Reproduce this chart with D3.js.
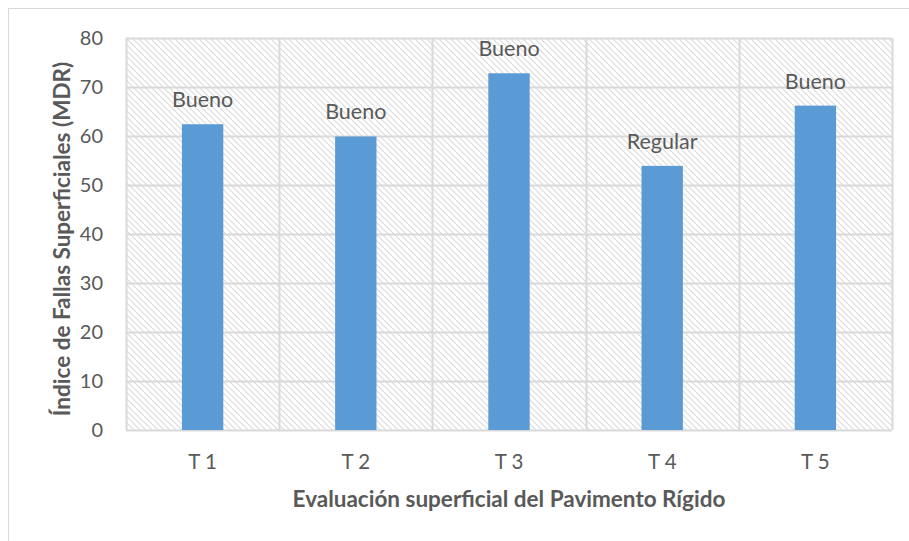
<!DOCTYPE html>
<html>
<head>
<meta charset="utf-8">
<script src="https://cdn.jsdelivr.net/npm/d3@7"></script>
<style>
  html, body { margin: 0; padding: 0; background: #fff; }
  svg text { font-family: Lato, "Open Sans", sans-serif; fill: #595959; }
</style>
</head>
<body>
<svg id="chart"></svg>
<script>
// ===== data =====
var categories = ["T 1", "T 2", "T 3", "T 4", "T 5"];
var values = [62.4, 59.9, 72.8, 53.9, 66.2];
var ratings = ["Bueno", "Bueno", "Bueno", "Regular", "Bueno"];
var yTicks = [0, 10, 20, 30, 40, 50, 60, 70, 80];

var width = 909, height = 541;
var margin = { top: 38, right: 17, bottom: 111, left: 126 };
var plotW = width - margin.left - margin.right;
var plotH = height - margin.top - margin.bottom;

var svg = d3.select("#chart").attr("width", width).attr("height", height);

// Chart frame
svg.append("rect").attr("width", width).attr("height", height).attr("fill", "#fff");
svg.append("rect")
  .attr("x", 8.5).attr("y", 8.5).attr("width", width + 10).attr("height", height + 10)
  .attr("fill", "none").attr("stroke", "#d9d9d9").attr("stroke-width", 1);

// Hatch pattern for plot area (light downward diagonal)
var defs = svg.append("defs");
var pat = defs.append("pattern").attr("id", "hatch")
  .attr("patternUnits", "userSpaceOnUse").attr("width", 6).attr("height", 6);
pat.append("rect").attr("width", 6).attr("height", 6).attr("fill", "#fff");
pat.append("path").attr("d", "M-1,-1 L7,7 M-4,2 L2,8 M4,-2 L8,2")
  .attr("stroke", "#dcdcdc").attr("stroke-width", 1.2);

var x = d3.scaleBand().domain(categories).range([0, plotW])
  .paddingInner(0.73).paddingOuter(0.365);
var xCat = d3.scaleBand().domain(categories).range([0, plotW]);
var y = d3.scaleLinear().domain([0, 80]).range([plotH, 0]);

var g = svg.append("g").attr("transform", "translate(" + margin.left + "," + margin.top + ")");

g.append("rect").attr("width", plotW).attr("height", plotH).attr("fill", "url(#hatch)");

// Horizontal gridlines
g.selectAll(".hgrid").data(yTicks).join("line")
  .attr("class", "hgrid")
  .attr("x1", 0).attr("x2", plotW)
  .attr("y1", function(d) { return Math.round(y(d)) + 0.5; })
  .attr("y2", function(d) { return Math.round(y(d)) + 0.5; })
  .attr("stroke", "#d9d9d9").attr("stroke-width", 2);

// Vertical gridlines at category boundaries
var bounds = categories.map(function(c) { return xCat(c); }).concat([plotW]);
g.selectAll(".vgrid").data(bounds).join("line")
  .attr("class", "vgrid")
  .attr("x1", function(d) { return Math.round(d) + 0.5; })
  .attr("x2", function(d) { return Math.round(d) + 0.5; })
  .attr("y1", 0).attr("y2", plotH)
  .attr("stroke", "#d9d9d9").attr("stroke-width", 2);

// Bars
g.selectAll(".bar").data(values).join("rect")
  .attr("class", "bar")
  .attr("x", function(d, i) { return x(categories[i]); })
  .attr("width", x.bandwidth())
  .attr("y", function(d) { return y(d); })
  .attr("height", function(d) { return plotH - y(d); })
  .attr("fill", "#5b9bd5");

// Data labels
g.selectAll(".lbl").data(values).join("text")
  .attr("class", "lbl")
  .attr("x", function(d, i) { return x(categories[i]) + x.bandwidth() / 2; })
  .attr("y", function(d) { return y(d) - 17; })
  .attr("text-anchor", "middle")
  .attr("font-size", 21.5)
  .text(function(d, i) { return ratings[i]; });

// Y axis labels
var yAxis = g.append("g").call(d3.axisLeft(y).tickValues(yTicks).tickSize(0).tickPadding(23));
yAxis.select(".domain").remove();
yAxis.selectAll("text").attr("font-size", 20).attr("fill", "#595959")
  .attr("font-family", "Lato, sans-serif");

// X axis labels
var xAxis = g.append("g").attr("transform", "translate(0," + plotH + ")")
  .call(d3.axisBottom(xCat).tickSize(0).tickPadding(24));
xAxis.select(".domain").remove();
xAxis.selectAll("text").attr("font-size", 20.5).attr("fill", "#595959")
  .attr("font-family", "Lato, sans-serif");

// Axis titles
svg.append("text")
  .attr("x", margin.left + plotW / 2).attr("y", 507)
  .attr("text-anchor", "middle").attr("font-size", 22.5).attr("font-weight", "bold")
  .text("Evaluación superficial del Pavimento Rígido");

svg.append("text")
  .attr("transform", "translate(70," + (margin.top + plotH / 2 + 5) + ") rotate(-90)")
  .attr("text-anchor", "middle").attr("font-size", 22.5).attr("font-weight", "bold")
  .text("Índice de Fallas Superficiales (MDR)");
</script>
</body>
</html>
